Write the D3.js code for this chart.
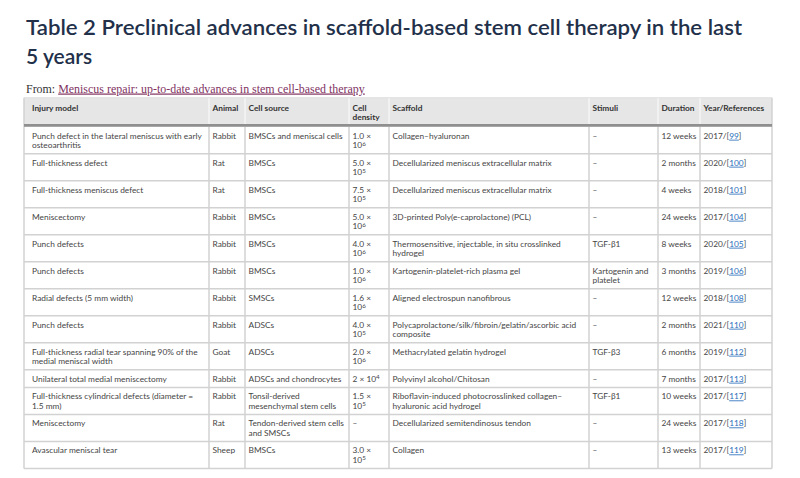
<!DOCTYPE html>
<html>
<head>
<meta charset="utf-8">
<script src="https://cdn.jsdelivr.net/npm/d3@7"></script>
<style>
  body { margin: 0; background: #fff; }
  svg { display: block; }
</style>
</head>
<body>
<svg id="chart" width="800" height="478"></svg>
<script>
const titleLines = [
  'Table 2 Preclinical advances in scaffold-based stem cell therapy in the last',
  '5 years'
];
const sourcePrefix = 'From: ';
const sourceLink = 'Meniscus repair: up-to-date advances in stem cell-based therapy';

const headers = ['Injury model', 'Animal', 'Cell source', 'Cell\ndensity', 'Scaffold', 'Stimuli', 'Duration', 'Year/References'];

const injuryModels = [
  'Punch defect in the lateral meniscus with early\nosteoarthritis',
  'Full-thickness defect',
  'Full-thickness meniscus defect',
  'Meniscectomy',
  'Punch defects',
  'Punch defects',
  'Radial defects (5 mm width)',
  'Punch defects',
  'Full-thickness radial tear spanning 90% of the\nmedial meniscal width',
  'Unilateral total medial meniscectomy',
  'Full-thickness cylindrical defects (diameter =\n1.5 mm)',
  'Meniscectomy',
  'Avascular meniscal tear'
];
const animals = ['Rabbit', 'Rat', 'Rat', 'Rabbit', 'Rabbit', 'Rabbit', 'Rabbit', 'Rabbit', 'Goat', 'Rabbit', 'Rabbit', 'Rat', 'Sheep'];
const cellSources = [
  'BMSCs and meniscal cells', 'BMSCs', 'BMSCs', 'BMSCs', 'BMSCs', 'BMSCs', 'SMSCs', 'ADSCs', 'ADSCs',
  'ADSCs and chondrocytes', 'Tonsil-derived\nmesenchymal stem cells', 'Tendon-derived stem cells\nand SMSCs', 'BMSCs'
];
const densityMantissa = ['1.0', '5.0', '7.5', '5.0', '4.0', '1.0', '1.6', '4.0', '2.0', '2', '1.5', null, '3.0'];
const densityExponent = [6, 5, 5, 6, 6, 6, 6, 5, 6, 4, 5, null, 5];
const scaffolds = [
  'Collagen–hyaluronan',
  'Decellularized meniscus extracellular matrix',
  'Decellularized meniscus extracellular matrix',
  '3D-printed Poly(e-caprolactone) (PCL)',
  'Thermosensitive, injectable, in situ crosslinked\nhydrogel',
  'Kartogenin-platelet-rich plasma gel',
  'Aligned electrospun nanofibrous',
  'Polycaprolactone/silk/fibroin/gelatin/ascorbic acid\ncomposite',
  'Methacrylated gelatin hydrogel',
  'Polyvinyl alcohol/Chitosan',
  'Riboflavin-induced photocrosslinked collagen–\nhyaluronic acid hydrogel',
  'Decellularized semitendinosus tendon',
  'Collagen'
];
const stimuli = ['–', '–', '–', '–', 'TGF-β1', 'Kartogenin and\nplatelet', '–', '–', 'TGF-β3', '–', 'TGF-β1', '–', '–'];
const durations = ['12 weeks', '2 months', '4 weeks', '24 weeks', '8 weeks', '3 months', '12 weeks', '2 months', '6 months', '7 months', '10 weeks', '24 weeks', '13 weeks'];
const years = [2017, 2020, 2018, 2017, 2020, 2019, 2018, 2021, 2019, 2017, 2017, 2017, 2017];
const refs = [99, 100, 101, 104, 105, 106, 108, 110, 112, 113, 117, 118, 119];

// layout
const tableLeft = 24;
const tableTop = 97.7;
const colWidths = [185, 36, 104, 40, 200, 69, 42, 72];
const colEdges = [tableLeft, ...d3.cumsum(colWidths).map(w => tableLeft + w)];
const tableRight = colEdges[colEdges.length - 1];
const lineH = 9.3;
const bodyFont = 'Lato, "Open Sans", sans-serif';
const textColor = '#454545';
const gridColor = '#d2d2d2';

const svg = d3.select('#chart');

function measure(str, font, size, weight) {
  const t = svg.append('text')
    .style('font-family', font).style('font-size', size + 'px').style('font-weight', weight || 400)
    .text(str);
  const w = t.node().getComputedTextLength();
  t.remove();
  return w;
}

// fit body font to the reference width of the first injury-model line
const fs = 10 * 170 / measure('Punch defect in the lateral meniscus with early', bodyFont, 10);

// title
const titleFont = 'Lato, "Noto Sans", sans-serif';
svg.selectAll('.title')
  .data(titleLines)
  .enter()
  .append('text')
  .attr('class', 'title')
  .attr('x', 26)
  .attr('y', (d, i) => 35 + i * 28.5)
  .style('font-family', titleFont)
  .style('font-size', '21px')
  .style('font-weight', 600)
  .style('fill', '#22304a')
  .attr('textLength', (d, i) => i === 0 ? 716 : null)
  .attr('lengthAdjust', 'spacingAndGlyphs')
  .text(d => d);

// source line
const serif = '"Liberation Serif", "DejaVu Serif", serif';
const srcFs = 10 * 339 / measure(sourcePrefix + sourceLink, serif, 10);
const src = svg.append('text')
  .attr('x', 26).attr('y', 92.5)
  .style('font-family', serif).style('font-size', srcFs + 'px');
src.append('tspan').style('fill', '#333').text(sourcePrefix);
src.append('tspan').style('fill', '#80325f').style('text-decoration', 'underline').text(sourceLink);

// build row cells
const rows = injuryModels.map((m, i) => ({
  injury: m.split('\n'),
  animal: [animals[i]],
  cell: cellSources[i].split('\n'),
  mant: densityMantissa[i],
  exp: densityExponent[i],
  scaffold: scaffolds[i].split('\n'),
  stimuli: stimuli[i].split('\n'),
  duration: [durations[i]],
  year: years[i],
  ref: refs[i]
}));

rows.forEach(r => {
  if (r.mant === null) {
    r.densityLines = 1;
  } else {
    const full = measure(`${r.mant} × 10${r.exp}`, bodyFont, fs);
    r.densityLines = full > colWidths[3] - 8 ? 2 : 1;
  }
  r.lines = Math.max(r.injury.length, r.cell.length, r.scaffold.length, r.stimuli.length, r.densityLines);
  r.h = 17.7 + (r.lines - 1) * lineH;
});

const headerH = 29;
const bodyTop = tableTop + headerH;
const rowY = [bodyTop, ...d3.cumsum(rows, r => r.h).map(h => bodyTop + h)];
const tableBottom = rowY[rowY.length - 1];

// header background
svg.append('rect')
  .attr('x', tableLeft).attr('y', tableTop)
  .attr('width', tableRight - tableLeft).attr('height', headerH)
  .style('fill', '#e6e6e6');

// header separators
svg.selectAll('.hsep')
  .data(colEdges.slice(1, -1))
  .enter()
  .append('line')
  .attr('x1', d => d).attr('x2', d => d)
  .attr('y1', tableTop).attr('y2', bodyTop)
  .style('stroke', '#f4f4f4').style('stroke-width', 1.5);

// body grid
svg.selectAll('.vsep')
  .data(colEdges)
  .enter()
  .append('line')
  .attr('x1', d => d).attr('x2', d => d)
  .attr('y1', (d, i) => (i === 0 || i === colEdges.length - 1) ? tableTop : bodyTop)
  .attr('y2', tableBottom)
  .style('stroke', gridColor).style('stroke-width', 1.5);

svg.selectAll('.rsep')
  .data(rowY.slice(1))
  .enter()
  .append('line')
  .attr('x1', tableLeft).attr('x2', tableRight)
  .attr('y1', d => d).attr('y2', d => d)
  .style('stroke', gridColor).style('stroke-width', 1.5);

svg.append('line')
  .attr('x1', tableLeft).attr('x2', tableRight)
  .attr('y1', tableTop).attr('y2', tableTop)
  .style('stroke', '#e0e0e0').style('stroke-width', 1);

// thick header rule
svg.append('line')
  .attr('x1', tableLeft).attr('x2', tableRight)
  .attr('y1', bodyTop - 1.3).attr('y2', bodyTop - 1.3)
  .style('stroke', '#8f8f8f').style('stroke-width', 2.6);

const padX = i => i === 0 ? 8 : 3.5;

// header text
headers.forEach((h, i) => {
  const t = svg.append('text')
    .attr('x', colEdges[i] + padX(i))
    .attr('y', tableTop + 12.8)
    .style('font-family', bodyFont).style('font-size', fs + 'px').style('font-weight', 700)
    .style('fill', '#333');
  h.split('\n').forEach((line, j) => {
    t.append('tspan').attr('x', colEdges[i] + padX(i)).attr('dy', j ? lineH : 0).text(line);
  });
});

// body text
function addLines(col, y0, lines) {
  const t = svg.append('text')
    .attr('x', colEdges[col] + padX(col))
    .attr('y', y0)
    .style('font-family', bodyFont).style('font-size', fs + 'px')
    .style('fill', textColor);
  lines.forEach((line, j) => {
    t.append('tspan').attr('x', colEdges[col] + padX(col)).attr('dy', j ? lineH : 0).text(line);
  });
  return t;
}

rows.forEach((r, i) => {
  const y0 = rowY[i] + 12;
  addLines(0, y0, r.injury);
  addLines(1, y0, r.animal);
  addLines(2, y0, r.cell);

  const dx = colEdges[3] + padX(3);
  const dt = svg.append('text')
    .attr('x', dx).attr('y', y0)
    .style('font-family', bodyFont).style('font-size', fs + 'px')
    .style('fill', textColor);
  if (r.mant === null) {
    dt.text('–');
  } else if (r.densityLines === 1) {
    dt.append('tspan').text(`${r.mant} × 10`);
    dt.append('tspan').attr('dy', -2.5).style('font-size', (fs * 0.75) + 'px').text(r.exp);
  } else {
    dt.append('tspan').text(`${r.mant} ×`);
    dt.append('tspan').attr('x', dx).attr('dy', lineH).text('10');
    dt.append('tspan').attr('dy', -2.5).style('font-size', (fs * 0.75) + 'px').text(r.exp);
  }

  addLines(4, y0, r.scaffold);
  addLines(5, y0, r.stimuli);
  addLines(6, y0, r.duration);

  const yt = addLines(7, y0, []);
  yt.append('tspan').text(`${r.year}/[`);
  yt.append('tspan').style('fill', '#2a6ebb').style('text-decoration', 'underline').text(r.ref);
  yt.append('tspan').text(']');
});
</script>
</body>
</html>
